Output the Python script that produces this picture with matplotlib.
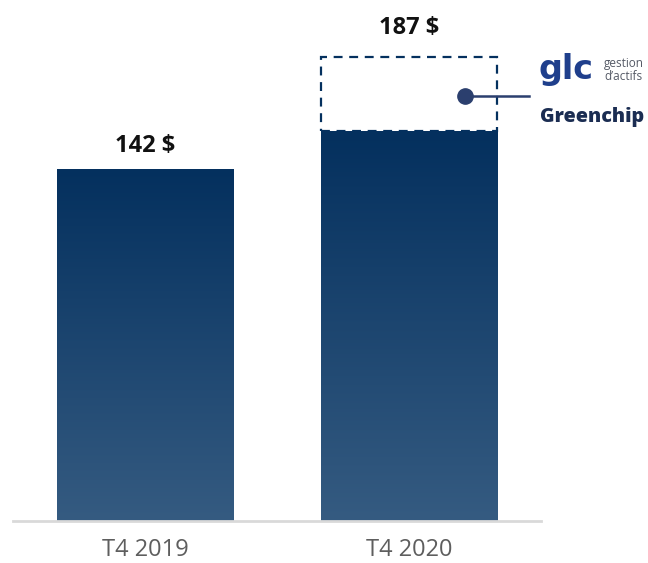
import numpy as np
import matplotlib.pyplot as plt
from matplotlib.colors import LinearSegmentedColormap

categories = ['T4 2019', 'T4 2020']
values = [142, 157]          # solid part of each bar
total_2020 = 187             # dashed total after acquisition
labels = ['142 $', '187 $']

navy = '#04305e'
light = '#355b81'
cmap = LinearSegmentedColormap.from_list('bar', [light, navy])

fig = plt.figure(figsize=(6.48, 5.63), dpi=100)
ax = fig.add_axes([13 / 648, 42 / 563, 528 / 648, 521 / 563])

x = np.arange(len(categories))
bars = ax.bar(x, values, width=0.67, color='none', edgecolor='none')
grad = np.linspace(0, 1, 256).reshape(-1, 1)
for b in bars:
    x0 = b.get_x()
    im = ax.imshow(grad, cmap=cmap, origin='lower', aspect='auto',
                   extent=[x0, x0 + b.get_width(), 0, b.get_height()], vmin=0, vmax=1)
    im.set_clip_path(b)

# dashed outline for the 2020 total
ax.bar(x[1], total_2020 - values[1], bottom=values[1], width=0.67, fill=False,
       edgecolor=navy, linestyle=(0, (4, 3)), linewidth=1.6)

ax.set_xlim(-0.5, 1.5)
ax.set_ylim(0, 210)

# value labels
tops = [values[0], total_2020]
offsets = [4.5, 7]
for xi, t, off, lab in zip(x, tops, offsets, labels):
    ax.text(xi, t + off, lab, ha='center', va='bottom', fontsize=17,
            fontweight='bold', family='Open Sans', color='#111111')

# connector to logo
ax.plot([1.214, 1.456], [171.4, 171.4], color='#2b3f6e', lw=1.8, clip_on=False)
ax.plot(1.214, 171.4, 'o', color='#2b3f6e', ms=11, clip_on=False)

fig.text(539 / 648, 1 - 70 / 563, 'glc', fontsize=24, fontweight='bold',
         family='DejaVu Sans', color='#1f3f8c', va='center')
fig.text(604 / 648, 1 - 64 / 563, 'gestion', fontsize=8.5, family='Open Sans',
         color='#555a66', va='center')
fig.text(604 / 648, 1 - 76 / 563, "d\u2019actifs", fontsize=8.5, family='Open Sans',
         color='#555a66', va='center')
fig.text(540 / 648, 1 - 117 / 563, 'Greenchip', fontsize=14.2, fontweight='heavy',
         family='Open Sans', color='#1b2d52', va='center')

ax.set_xticks(x)
ax.set_xticklabels(categories, fontsize=17, family='Open Sans',
                   color='#5e5e5e')
ax.tick_params(axis='x', length=0, pad=12)
ax.set_yticks([])
for s in ['top', 'right', 'left']:
    ax.spines[s].set_visible(False)
ax.spines['bottom'].set_color('#d9d9d9')
ax.spines['bottom'].set_linewidth(2)

fig.savefig('out.png', dpi=100)
